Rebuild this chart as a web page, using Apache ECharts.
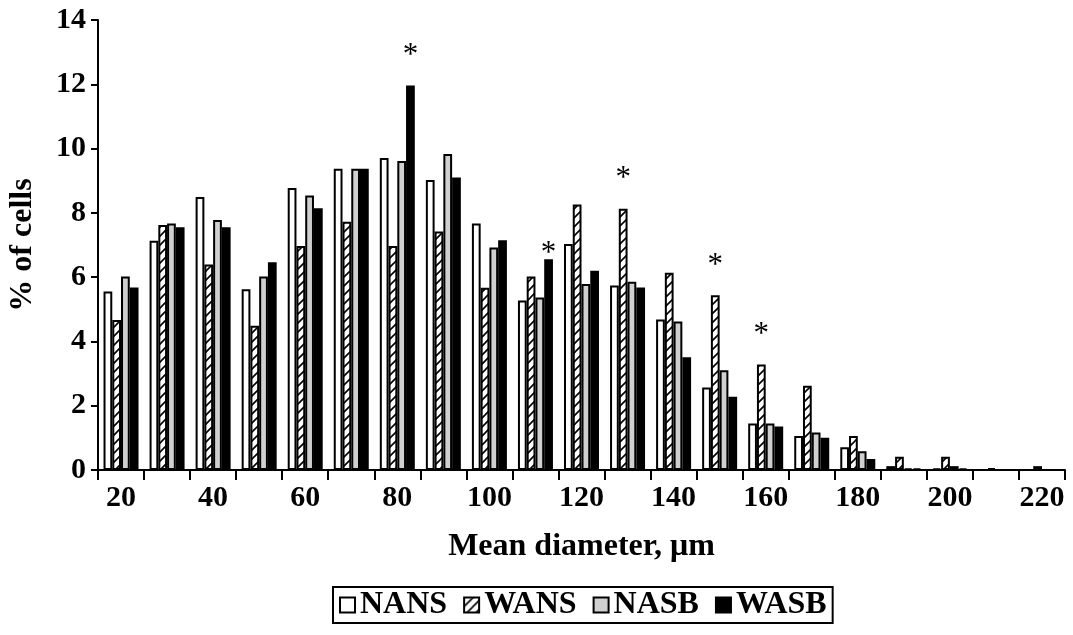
<!DOCTYPE html>
<html>
<head>
<meta charset="utf-8">
<script src="https://cdn.jsdelivr.net/npm/echarts@6/dist/echarts.min.js"></script>
<style>
  html, body { margin: 0; padding: 0; background: #fff; }
  #main { width: 1073px; height: 635px; }
</style>
</head>
<body>
<div id="main"></div>
<script>
var categories = ['20', '30', '40', '50', '60', '70', '80', '90', '100', '110', '120',
    '130', '140', '150', '160', '170', '180', '190', '200', '210', '220'];
var nans = [5.55, 7.13, 8.49, 5.62, 8.77, 9.37, 9.71, 9.02, 7.67, 5.27, 7.03,
    5.74, 4.68, 2.57, 1.45, 1.06, 0.71, 0.12, 0.05, 0, 0];
var wans = [4.67, 7.62, 6.39, 4.49, 6.97, 7.72, 6.97, 7.42, 5.67, 6.02, 8.26,
    8.13, 6.14, 5.44, 3.28, 2.62, 1.06, 0.41, 0.41, 0.06, 0.12];
var nasb = [6.02, 7.67, 7.78, 6.02, 8.54, 9.37, 9.61, 9.83, 6.92, 5.37, 5.79,
    5.86, 4.62, 3.10, 1.45, 1.17, 0.58, 0.05, 0.12, 0, 0];
var wasb = [5.68, 7.55, 7.55, 6.46, 8.14, 9.37, 11.96, 9.10, 7.15, 6.56, 6.20,
    5.68, 3.51, 2.28, 1.35, 1.00, 0.34, 0.05, 0.05, 0, 0];
// groups marked with an asterisk
var starsWans = ['130', '150', '160'];
var starsWasb = ['80', '110'];

var font = '"Liberation Serif", "Times New Roman", serif';

// diagonal hatch for WANS
var hatch = document.createElement('canvas');
hatch.width = 9;
hatch.height = 9;
var ctx = hatch.getContext('2d');
ctx.fillStyle = '#fff';
ctx.fillRect(0, 0, 9, 9);
ctx.strokeStyle = '#000';
ctx.lineWidth = 1.6;
ctx.beginPath();
ctx.moveTo(-1, 10); ctx.lineTo(10, -1);
ctx.moveTo(-1, 1); ctx.lineTo(1, -1);
ctx.moveTo(8, 10); ctx.lineTo(10, 8);
ctx.stroke();

function withStars(values, stars) {
    return values.map(function (v, i) {
        if (stars.indexOf(categories[i]) >= 0) {
            var lbl = { show: true };
            // the star over 110 sits close to its bar
            if (categories[i] === '110') lbl.distance = -10;
            return { value: v, label: lbl };
        }
        return v;
    });
}

function barSeries(name, values, fill, stars) {
    return {
        type: 'bar',
        name: name,
        barGap: '0%',
        barCategoryGap: '24%',
        itemStyle: { color: fill, borderColor: '#000', borderWidth: 2 },
        label: {
            show: false,
            position: 'top',
            distance: 14,
            formatter: '*',
            fontFamily: font,
            fontSize: 31,
            color: '#000'
        },
        data: withStars(values, stars || [])
    };
}

var myChart = echarts.init(document.getElementById('main'));
myChart.setOption({
    animation: false,
    backgroundColor: '#fff',
    grid: { left: 98, right: 8, top: 20, bottom: 165, outerBoundsMode: 'none' },
    legend: {
        left: 333,
        top: 587,
        padding: [2, 6, 2, 6],
        borderColor: '#000',
        borderWidth: 2,
        icon: 'rect',
        itemWidth: 15,
        itemHeight: 15,
        itemGap: 16,
        textStyle: { fontFamily: font, fontSize: 32, fontWeight: 'bold', color: '#000' },
        data: ['NANS', 'WANS', 'NASB', 'WASB']
    },
    xAxis: {
        type: 'category',
        data: categories,
        name: 'Mean diameter, \u03bcm',
        nameLocation: 'middle',
        nameGap: 61,
        nameTextStyle: { fontFamily: font, fontSize: 32, fontWeight: 'bold', color: '#000' },
        axisLine: { lineStyle: { color: '#000', width: 2 } },
        axisTick: { show: true, interval: 0, length: 10, lineStyle: { color: '#000', width: 2 } },
        axisLabel: {
            interval: 1,
            margin: 13,
            fontFamily: font,
            fontSize: 30,
            fontWeight: 'bold',
            color: '#000'
        }
    },
    yAxis: {
        type: 'value',
        min: 0,
        max: 14,
        interval: 2,
        name: '% of cells',
        nameLocation: 'middle',
        nameGap: 59,
        nameTextStyle: { fontFamily: font, fontSize: 32, fontWeight: 'bold', color: '#000' },
        axisLine: { show: true, lineStyle: { color: '#000', width: 2 } },
        axisTick: { show: true, length: 7, lineStyle: { color: '#000', width: 2 } },
        splitLine: { show: false },
        axisLabel: {
            margin: 12,
            fontFamily: font,
            fontSize: 30,
            fontWeight: 'bold',
            color: '#000'
        }
    },
    series: [
        barSeries('NANS', nans, '#fff'),
        barSeries('WANS', wans, { image: hatch, repeat: 'repeat' }, starsWans),
        barSeries('NASB', nasb, '#d0d0d0'),
        barSeries('WASB', wasb, '#000', starsWasb)
    ]
});
</script>
</body>
</html>
